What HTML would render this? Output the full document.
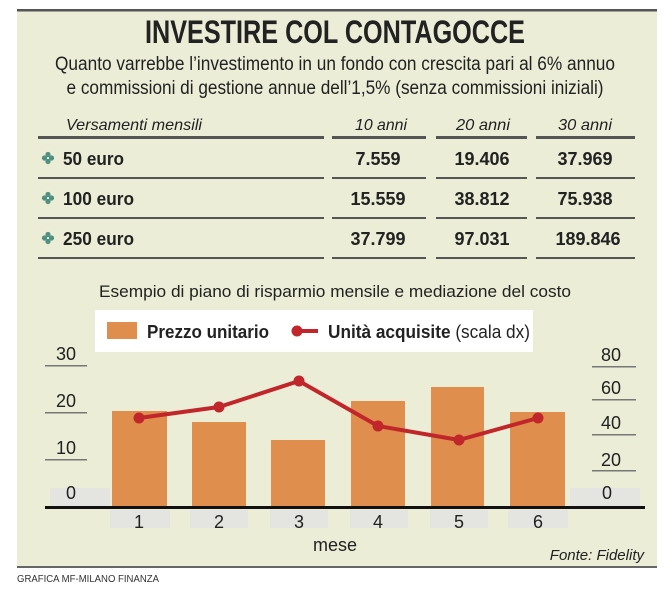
<!DOCTYPE html>
<html><head><meta charset="utf-8"><style>
html,body{margin:0;padding:0;background:#fff;}
svg{display:block;font-family:"Liberation Sans",sans-serif;}
</style></head><body>
<svg width="672" height="592" viewBox="0 0 672 592">
<rect x="17" y="10" width="640" height="558" fill="#ebedd6"/>
<rect x="17" y="9" width="640" height="2.5" fill="#555"/>
<rect x="17" y="566" width="640" height="2" fill="#666"/>
<text x="335" y="43" text-anchor="middle" font-size="32" font-weight="bold" textLength="380" lengthAdjust="spacingAndGlyphs" fill="#222">INVESTIRE COL CONTAGOCCE</text>
<text x="335" y="70" text-anchor="middle" font-size="19" textLength="560" lengthAdjust="spacingAndGlyphs" fill="#222">Quanto varrebbe l’investimento in un fondo con crescita pari al 6% annuo</text>
<text x="335" y="94" text-anchor="middle" font-size="19" textLength="537" lengthAdjust="spacingAndGlyphs" fill="#222">e commissioni di gestione annue dell’1,5% (senza commissioni iniziali)</text>
<g font-size="16" font-style="italic" fill="#222">
<text x="66" y="130" textLength="136" lengthAdjust="spacingAndGlyphs">Versamenti mensili</text>
<text x="355" y="130" textLength="52" lengthAdjust="spacingAndGlyphs">10 anni</text>
<text x="456" y="130" textLength="54" lengthAdjust="spacingAndGlyphs">20 anni</text>
<text x="558" y="130" textLength="54" lengthAdjust="spacingAndGlyphs">30 anni</text>
</g>
<g fill="#555">
<rect x="38" y="136" width="286" height="3"/><rect x="332" y="136" width="94" height="3"/><rect x="436" y="136" width="91" height="3"/><rect x="536" y="136" width="99" height="3"/>
<rect x="38" y="177" width="286" height="2"/><rect x="332" y="177" width="94" height="2"/><rect x="436" y="177" width="91" height="2"/><rect x="536" y="177" width="99" height="2"/>
<rect x="38" y="217" width="286" height="2"/><rect x="332" y="217" width="94" height="2"/><rect x="436" y="217" width="91" height="2"/><rect x="536" y="217" width="99" height="2"/>
<rect x="38" y="257" width="286" height="2"/><rect x="332" y="257" width="94" height="2"/><rect x="436" y="257" width="91" height="2"/><rect x="536" y="257" width="99" height="2"/>
</g>
<g fill="#4f9080">
<g transform="translate(48,158)"><circle cx="0" cy="-3.5" r="2.6"/><circle cx="0" cy="3.5" r="2.6"/><circle cx="-3.5" cy="0" r="2.6"/><circle cx="3.5" cy="0" r="2.6"/></g>
<g transform="translate(48,198)"><circle cx="0" cy="-3.5" r="2.6"/><circle cx="0" cy="3.5" r="2.6"/><circle cx="-3.5" cy="0" r="2.6"/><circle cx="3.5" cy="0" r="2.6"/></g>
<g transform="translate(48,238)"><circle cx="0" cy="-3.5" r="2.6"/><circle cx="0" cy="3.5" r="2.6"/><circle cx="-3.5" cy="0" r="2.6"/><circle cx="3.5" cy="0" r="2.6"/></g>
</g>
<g font-size="18" font-weight="bold" fill="#222">
<text x="63" y="165" textLength="61" lengthAdjust="spacingAndGlyphs">50 euro</text>
<text x="63" y="205" textLength="71" lengthAdjust="spacingAndGlyphs">100 euro</text>
<text x="63" y="245" textLength="71" lengthAdjust="spacingAndGlyphs">250 euro</text>
<g text-anchor="middle">
<text x="378" y="165">7.559</text><text x="482" y="165">19.406</text><text x="585" y="165">37.969</text>
<text x="378" y="205">15.559</text><text x="482" y="205">38.812</text><text x="585" y="205">75.938</text>
<text x="378" y="245">37.799</text><text x="482" y="245">97.031</text><text x="588" y="245">189.846</text>
</g></g>
<text x="335" y="297" text-anchor="middle" font-size="17" textLength="472" lengthAdjust="spacingAndGlyphs" fill="#222">Esempio di piano di risparmio mensile e mediazione del costo</text>
<rect x="95" y="310" width="438" height="42" fill="#fff"/>
<rect x="107" y="322" width="30" height="17" fill="#e08e4e"/>
<text x="147" y="338" font-size="18" font-weight="bold" textLength="122" lengthAdjust="spacingAndGlyphs" fill="#222">Prezzo unitario</text>
<line x1="292" y1="331" x2="318" y2="331" stroke="#c0262a" stroke-width="4"/><circle cx="297" cy="331" r="5.5" fill="#c0262a"/>
<text x="328" y="338" font-size="18" textLength="202" lengthAdjust="spacingAndGlyphs" fill="#222"><tspan font-weight="bold">Unità acquisite</tspan> (scala dx)</text>
<g fill="#e4e4e0">
<rect x="50" y="488" width="60" height="18"/><rect x="570" y="488" width="70" height="18"/>
<rect x="110" y="510" width="60" height="18"/><rect x="190" y="510" width="58" height="18"/><rect x="270" y="510" width="58" height="18"/><rect x="350" y="510" width="58" height="18"/><rect x="430" y="510" width="58" height="18"/><rect x="508" y="510" width="60" height="18"/>
</g>
<g fill="#e08e4e">
<rect x="112" y="411" width="55" height="96"/><rect x="192" y="422" width="54" height="85"/><rect x="271" y="440" width="54" height="67"/>
<rect x="351" y="401" width="54" height="106"/><rect x="431" y="387" width="53" height="120"/><rect x="510" y="412" width="55" height="95"/>
</g>
<polyline points="139,418 219,407 299,381 378,426 459,440 538,418" fill="none" stroke="#c0262a" stroke-width="4" stroke-linejoin="round"/>
<g fill="#c0262a"><circle cx="139" cy="418" r="5.5"/><circle cx="219" cy="407" r="5.5"/><circle cx="299" cy="381" r="5.5"/><circle cx="378" cy="426" r="5.5"/><circle cx="459" cy="440" r="5.5"/><circle cx="538" cy="418" r="5.5"/></g>
<rect x="45" y="506" width="600" height="3" fill="#111"/>
<g fill="#777"><rect x="45" y="365" width="42" height="1.5"/><rect x="45" y="412" width="42" height="1.5"/><rect x="45" y="459" width="42" height="1.5"/>
<rect x="592" y="366" width="44" height="1.5"/><rect x="592" y="399" width="44" height="1.5"/><rect x="592" y="434" width="44" height="1.5"/><rect x="592" y="470" width="44" height="1.5"/></g>
<g font-size="18" fill="#222" text-anchor="middle">
<text x="66" y="360">30</text><text x="66" y="407">20</text><text x="66" y="454">10</text><text x="71" y="499">0</text>
<text x="611" y="361">80</text><text x="611" y="394">60</text><text x="611" y="429">40</text><text x="611" y="466">20</text><text x="607" y="499">0</text>
<text x="139" y="528">1</text><text x="219" y="528">2</text><text x="299" y="528">3</text><text x="378" y="528">4</text><text x="459" y="528">5</text><text x="538" y="528">6</text>
<text x="335" y="551">mese</text>
</g>
<text x="644" y="560" text-anchor="end" font-size="15" font-style="italic" fill="#222">Fonte: Fidelity</text>
<text x="17" y="582" font-size="10" textLength="142" lengthAdjust="spacingAndGlyphs" fill="#333">GRAFICA MF-MILANO FINANZA</text>
</svg>
</body></html>
